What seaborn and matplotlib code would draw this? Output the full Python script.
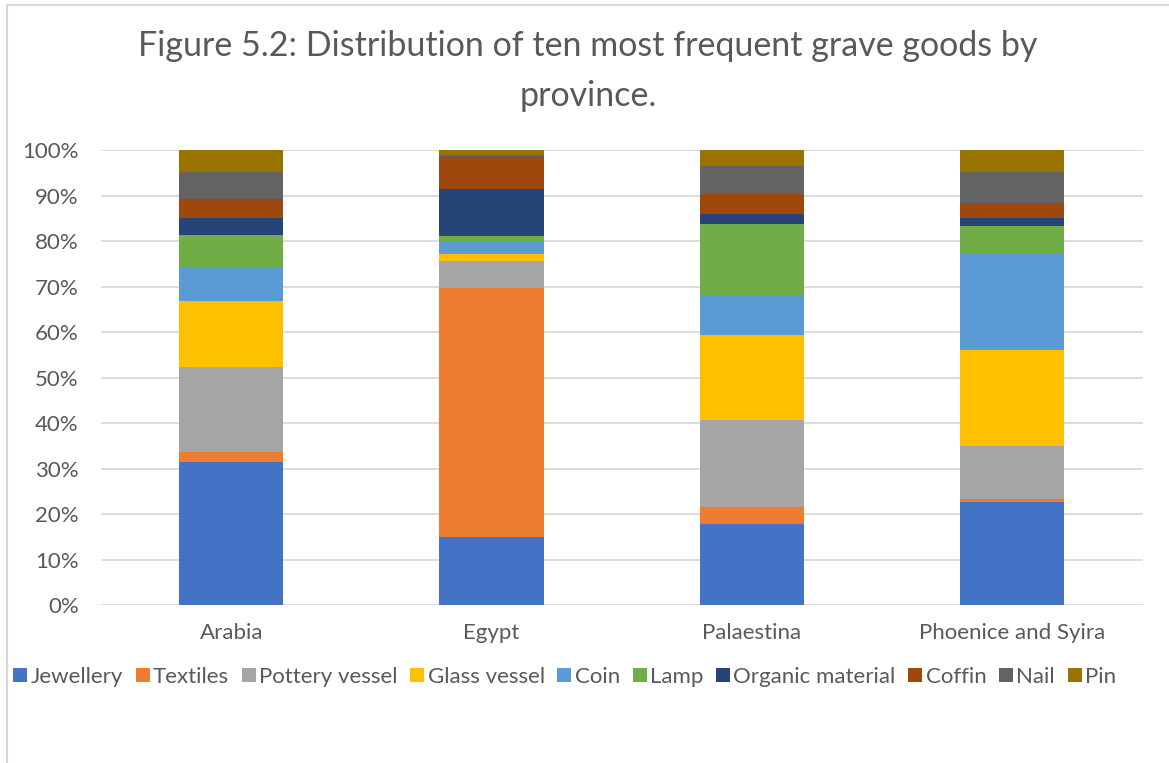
import matplotlib
matplotlib.use("Agg")
import matplotlib.pyplot as plt
from matplotlib.lines import Line2D
from matplotlib.ticker import PercentFormatter
import numpy as np
import pandas as pd
import seaborn as sns

# Share (%) of each grave-good type per province
provinces = ["Arabia", "Egypt", "Palaestina", "Phoenice and Syira"]
goods = ["Jewellery", "Textiles", "Pottery vessel", "Glass vessel", "Coin",
         "Lamp", "Organic material", "Coffin", "Nail", "Pin"]

jewellery = [31.6, 15.1, 17.8, 22.8]
textiles = [2.2, 54.7, 3.9, 0.5]
pottery_vessel = [18.6, 5.8, 19.1, 11.7]
glass_vessel = [14.5, 1.6, 18.7, 21.2]
coin = [7.4, 2.8, 8.8, 20.9]
lamp = [7.1, 1.2, 15.5, 6.3]
organic_material = [3.8, 10.4, 2.3, 1.7]
coffin = [4.1, 6.9, 4.4, 3.4]
nail = [5.9, 0.4, 6.1, 6.8]
pin = [4.8, 1.1, 3.4, 4.7]

series = [jewellery, textiles, pottery_vessel, glass_vessel, coin,
          lamp, organic_material, coffin, nail, pin]
colors = ["#4472C4", "#ED7D31", "#A5A5A5", "#FFC000", "#5B9BD5",
          "#70AD47", "#264478", "#9E480E", "#636363", "#997300"]

df = pd.DataFrame({g: v for g, v in zip(goods, series)}, index=provinces)
cum = df.cumsum(axis=1)

sns.set_theme(style="white")
plt.rcParams["font.family"] = ["Lato", "DejaVu Sans"]
text_color = "#595959"

fig = plt.figure(figsize=(11.69, 7.63), dpi=100)
ax = fig.add_axes([101 / 1169, 1 - 605.3 / 763, (1142.5 - 101) / 1169, (605.3 - 150.3) / 763])

# Stacked bars: draw cumulative totals from the top layer down
for g, c in reversed(list(zip(goods, colors))):
    sns.barplot(x=provinces, y=cum[g].values, color=c, width=0.4,
                saturation=1, ax=ax, zorder=3, linewidth=0)

ax.set_ylim(0, 100)
ax.set_yticks(np.arange(0, 101, 10))
ax.yaxis.set_major_formatter(PercentFormatter(decimals=0))
ax.grid(axis="y", color="#D9D9D9", linewidth=1.3, zorder=0)
ax.set_axisbelow(True)
for s in ax.spines.values():
    s.set_visible(False)
ax.tick_params(axis="both", length=0, labelsize=16, colors=text_color)
ax.tick_params(axis="y", pad=16)
ax.tick_params(axis="x", pad=13)
ax.set_xlabel("")
ax.set_ylabel("")

fig.text(0.503, 1 - 46 / 763, "Figure 5.2: Distribution of ten most frequent grave goods by",
         ha="center", va="center", fontsize=24.5, color=text_color)
fig.text(0.503, 1 - 96 / 763, "province.",
         ha="center", va="center", fontsize=24.5, color=text_color)

handles = [Line2D([0], [0], marker="s", linestyle="none", markersize=10.5,
                  markerfacecolor=c, markeredgewidth=0) for c in colors]
fig.legend(handles, goods, loc="center", bbox_to_anchor=(0.4825, 1 - 677 / 763),
           ncol=10, frameon=False, fontsize=16, labelcolor=text_color,
           handletextpad=0.1, columnspacing=0.5, handlelength=0.75)

# Chart frame
fig.add_artist(Line2D([7 / 1169, 7 / 1169], [0, 1 - 5 / 763], transform=fig.transFigure,
                      color="#D9D9D9", linewidth=1.5))
fig.add_artist(Line2D([7 / 1169, 1], [1 - 5 / 763, 1 - 5 / 763], transform=fig.transFigure,
                      color="#D9D9D9", linewidth=1.5))

fig.savefig("out.png", dpi=100)
